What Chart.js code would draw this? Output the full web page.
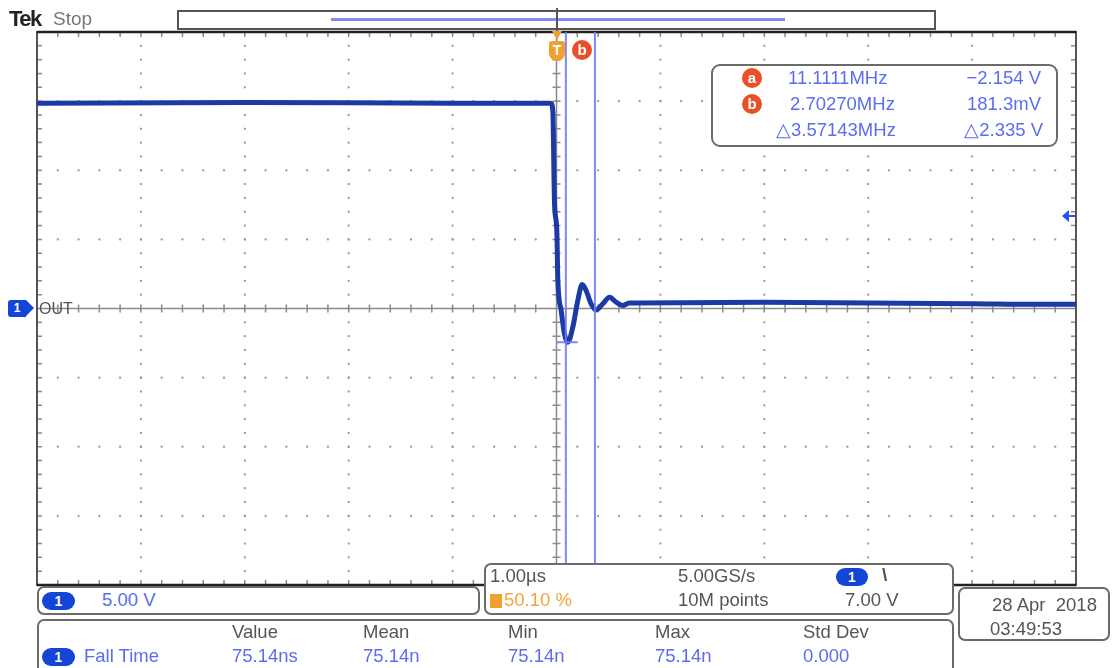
<!DOCTYPE html>
<html>
<head>
<meta charset="utf-8">
<script src="https://cdn.jsdelivr.net/npm/chart.js@4"></script>
<style>
  body { margin: 0; background: #fff; }
  #wrap { position: relative; width: 1112px; height: 668px; overflow: hidden; font-family: "Liberation Sans", sans-serif; }
  canvas { position: absolute; left: 0; top: 0; }
  .t { position: absolute; white-space: nowrap; font-size: 18.5px; line-height: 20px; }
  .box { position: absolute; border: 2px solid #6b6b6b; border-radius: 7px; background: #fff; box-sizing: border-box; }
  .blue { color: #5b6cf0; }
  .gray { color: #555; }
  .pill { position: absolute; background: #1446d6; color: #fff; border-radius: 9px; text-align: center; font-size: 14px; line-height: 18px; font-weight: bold; }
  .dot { position: absolute; width: 20px; height: 20px; border-radius: 10px; background: #e8502a; color: #fff; text-align: center; font-size: 15px; line-height: 19px; font-weight: bold; }
</style>
</head>
<body>
<div id="wrap">
  <canvas id="scope" width="1112" height="668"></canvas>

  <!-- header -->
  <div class="t" style="left:9px;top:8px;font-size:22px;line-height:22px;font-weight:bold;color:#222;letter-spacing:-1.5px;">Tek</div>
  <div class="t" style="left:53px;top:9px;font-size:19px;color:#777;">Stop</div>
  <div style="position:absolute;left:177px;top:10px;width:759px;height:20px;border:2px solid #555;box-sizing:border-box;"></div>
  <div style="position:absolute;left:331px;top:18px;width:454px;height:3px;background:#7f8cf2;"></div>
  <div style="position:absolute;left:556px;top:8px;width:2px;height:26px;background:#555;"></div>
  <div style="position:absolute;left:552px;top:31px;width:0;height:0;border-left:5px solid transparent;border-right:5px solid transparent;border-top:9px solid #f0a030;"></div>
  <div style="position:absolute;left:549px;top:41px;width:16px;height:20px;background:#f0a030;border-radius:3px 3px 8px 8px;color:#fff;font-size:14px;line-height:19px;text-align:center;font-weight:bold;">T</div>
  <div class="dot" style="left:572px;top:40px;">b</div>

  <!-- cursor readout -->
  <div class="box" style="left:711px;top:64px;width:347px;height:83px;border-radius:9px;"></div>
  <div class="dot" style="left:742px;top:68px;">a</div>
  <div class="dot" style="left:742px;top:94px;">b</div>
  <div class="t blue" style="left:788px;top:68px;">11.1111MHz</div>
  <div class="t blue" style="left:790px;top:94px;">2.70270MHz</div>
  <div class="t blue" style="left:776px;top:120px;">△3.57143MHz</div>
  <div class="t blue" style="right:71px;top:68px;">−2.154 V</div>
  <div class="t blue" style="right:71px;top:94px;">181.3mV</div>
  <div class="t blue" style="right:69px;top:120px;">△2.335 V</div>

  <!-- channel / trigger markers -->
  <div style="position:absolute;left:8px;top:300px;width:18px;height:17px;background:#1446d6;border-radius:3px 0 0 3px;color:#fff;font-size:12px;line-height:17px;text-align:center;font-weight:bold;">1</div>
  <div style="position:absolute;left:26px;top:300px;width:0;height:0;border-top:8.5px solid transparent;border-bottom:8.5px solid transparent;border-left:8px solid #1446d6;"></div>
  <div class="t gray" style="left:39px;top:299px;font-size:16px;">OUT</div>
  <div style="position:absolute;left:1062px;top:210px;width:0;height:0;border-top:6px solid transparent;border-bottom:6px solid transparent;border-right:7px solid #2c4ff0;"></div>
  <div style="position:absolute;left:1068px;top:215px;width:7px;height:2px;background:#2c4ff0;"></div>

  <!-- bottom boxes -->
  <div class="box" style="left:37px;top:586px;width:443px;height:29px;"></div>
  <div class="pill" style="left:42px;top:592px;width:33px;">1</div>
  <div class="t blue" style="left:102px;top:590px;">5.00 V</div>

  <div class="box" style="left:484px;top:563px;width:470px;height:52px;"></div>
  <div class="t gray" style="left:490px;top:566px;">1.00µs</div>
  <div style="position:absolute;left:490px;top:594px;width:12px;height:14px;background:#f0a030;"></div>
  <div class="t" style="left:504px;top:590px;color:#f5a33a;">50.10 %</div>
  <div class="t gray" style="left:678px;top:566px;">5.00GS/s</div>
  <div class="t gray" style="left:678px;top:590px;">10M points</div>
  <div class="pill" style="left:836px;top:568px;width:32px;">1</div>
  <div class="t gray" style="left:882px;top:565px;font-size:19px;font-weight:bold;">\</div>
  <div class="t gray" style="left:845px;top:590px;">7.00 V</div>

  <div class="box" style="left:958px;top:587px;width:152px;height:54px;"></div>
  <div class="t gray" style="left:992px;top:595px;">28 Apr &nbsp;2018</div>
  <div class="t gray" style="left:990px;top:619px;">03:49:53</div>

  <div class="box" style="left:37px;top:619px;width:917px;height:60px;"></div>
  <div class="t gray" style="left:232px;top:622px;">Value</div>
  <div class="t gray" style="left:363px;top:622px;">Mean</div>
  <div class="t gray" style="left:508px;top:622px;">Min</div>
  <div class="t gray" style="left:655px;top:622px;">Max</div>
  <div class="t gray" style="left:803px;top:622px;">Std Dev</div>
  <div class="pill" style="left:42px;top:648px;width:33px;">1</div>
  <div class="t blue" style="left:84px;top:646px;">Fall Time</div>
  <div class="t blue" style="left:232px;top:646px;">75.14ns</div>
  <div class="t blue" style="left:363px;top:646px;">75.14n</div>
  <div class="t blue" style="left:508px;top:646px;">75.14n</div>
  <div class="t blue" style="left:655px;top:646px;">75.14n</div>
  <div class="t blue" style="left:803px;top:646px;">0.000</div>
</div>

<script>
// trace of channel 1 (time in µs, volts)
const timeUs = [-5, -3, -1, -0.06, -0.051, -0.035, -0.019, 0.003, 0.013, 0.045, 0.077, 0.109, 0.157, 0.205, 0.247, 0.285, 0.333, 0.381, 0.446, 0.51, 0.574, 0.638, 0.70, 1.2, 2, 3, 4, 4.6, 5];
const volts  = [14.85, 14.9, 14.85, 14.85, 14.83, 14.23, 7.59, 5.65, 2.03, -0.14, -1.84, -2.44, -1.35, 0.58, 1.74, 1.30, 0.34, -0.10, 0.34, 0.82, 0.46, 0.22, 0.40, 0.42, 0.45, 0.40, 0.35, 0.3, 0.3];

// cursors
const cursorTimes = [0.09, 0.37];
const cursorVolts = [-2.154, 0.1813];

// screen divisions: 1 µs/div, 5 V/div
const xDivs = [-5, -4, -3, -2, -1, 0, 1, 2, 3, 4, 5];
const yDivs = [-20, -15, -10, -5, 0, 5, 10, 15, 20];
const xMinor = 0.2;
const yMinor = 1;

const scopeGrid = {
    id: "scopeGrid",
    beforeDatasetsDraw(chart){
        const {ctx, chartArea, scales} = chart;
        const {left, right, top, bottom} = chartArea;
        const x = scales.x, y = scales.y;
        ctx.save();
        // dotted graticule
        ctx.fillStyle = "#9a9a9a";
        for(const xv of xDivs){
            if(xv === 0 || xv === xDivs[0] || xv === xDivs[xDivs.length-1]) continue;
            const px = x.getPixelForValue(xv);
            for(let v = -20; v <= 20; v += yMinor){
                ctx.fillRect(px-1, y.getPixelForValue(v)-1, 2, 2);
            }
        }
        for(const yv of yDivs){
            if(yv === 0 || yv === yDivs[0] || yv === yDivs[yDivs.length-1]) continue;
            const py = y.getPixelForValue(yv);
            for(let t = -5; t <= 5.001; t += xMinor){
                ctx.fillRect(x.getPixelForValue(t)-1, py-1, 2, 2);
            }
        }
        // center crosshair
        ctx.strokeStyle = "#8a8a8a";
        ctx.lineWidth = 1.5;
        const cx = x.getPixelForValue(0), cy = y.getPixelForValue(0);
        ctx.beginPath();
        ctx.moveTo(left, cy); ctx.lineTo(right, cy);
        ctx.moveTo(cx, top); ctx.lineTo(cx, bottom);
        for(let t = -5; t <= 5.001; t += xMinor){
            const px = x.getPixelForValue(t);
            ctx.moveTo(px, cy-4); ctx.lineTo(px, cy+4);
            ctx.moveTo(px, top); ctx.lineTo(px, top+5);
            ctx.moveTo(px, bottom); ctx.lineTo(px, bottom-5);
        }
        for(let v = -20; v <= 20; v += yMinor){
            const py = y.getPixelForValue(v);
            ctx.moveTo(cx-4, py); ctx.lineTo(cx+4, py);
            ctx.moveTo(left, py); ctx.lineTo(left+5, py);
            ctx.moveTo(right, py); ctx.lineTo(right-5, py);
        }
        ctx.stroke();
        // frame
        ctx.strokeStyle = "#555";
        ctx.lineWidth = 2;
        ctx.strokeRect(left, top, right-left, bottom-top);
        ctx.strokeStyle = "#222";
        ctx.lineWidth = 2.5;
        ctx.beginPath();
        ctx.moveTo(left, top); ctx.lineTo(right, top);
        ctx.moveTo(left, bottom); ctx.lineTo(right, bottom);
        ctx.stroke();
        ctx.restore();
    },
    afterDatasetsDraw(chart){
        const {ctx, chartArea, scales} = chart;
        const x = scales.x, y = scales.y;
        ctx.save();
        ctx.strokeStyle = "rgba(110,125,240,0.9)";
        ctx.lineWidth = 2;
        ctx.beginPath();
        for(const t of cursorTimes){
            const px = x.getPixelForValue(t);
            ctx.moveTo(px, chartArea.top); ctx.lineTo(px, 563);
        }
        // cursor a marker on the trace
        const ax = x.getPixelForValue(cursorTimes[0]), ay = y.getPixelForValue(cursorVolts[0]) + 4;
        ctx.moveTo(ax-9, ay); ctx.lineTo(ax+12, ay);
        ctx.stroke();
        ctx.restore();
    }
};

new Chart(document.getElementById("scope"), {
    type: "line",
    data: {
        datasets: [{
            data: timeUs.map((t, i) => ({x: t, y: volts[i]})),
            borderColor: "#1c3aa6",
            borderWidth: 5,
            pointRadius: 0,
            cubicInterpolationMode: "monotone",
            borderJoinStyle: "round"
        }]
    },
    options: {
        responsive: false,
        animation: false,
        layout: { padding: {left: 37, right: 36, top: 32, bottom: 83} },
        scales: {
            x: { type: "linear", min: -5, max: 5, display: false },
            y: { min: -20, max: 20, display: false }
        },
        plugins: { legend: {display: false}, tooltip: {enabled: false} }
    },
    plugins: [scopeGrid]
});
</script>
</body>
</html>
